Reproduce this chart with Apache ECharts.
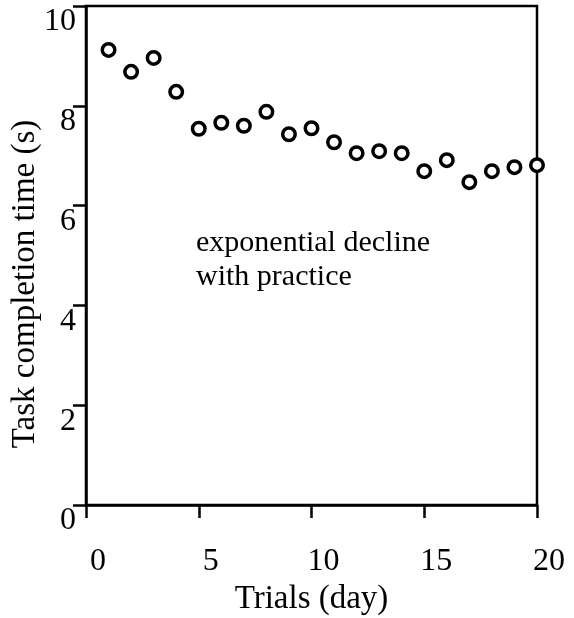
<!DOCTYPE html>
<html>
<head>
<meta charset="utf-8">
<script src="https://cdn.jsdelivr.net/npm/echarts@6/dist/echarts.min.js"></script>
<style>html,body{margin:0;padding:0;background:#fff;}#c{width:574px;height:618px;}</style>
</head>
<body>
<div id="c"></div>
<script>
const trials = [1,2,3,4,5,6,7,8,9,10,11,12,13,14,15,16,17,18,19,20];
const times = [9.12,8.68,8.96,8.28,7.54,7.66,7.60,7.88,7.43,7.55,7.27,7.05,7.09,7.05,6.69,6.91,6.47,6.69,6.77,6.81];
const annotationLines = ['exponential decline', 'with practice'];
const xTitle = 'Trials (day)';
const yTitle = 'Task completion time (s)';

const FONT = '"Liberation Serif", "Times New Roman", serif';
const chart = echarts.init(document.getElementById('c'), null, {renderer: 'canvas'});
const axisLine = {show: true, lineStyle: {color: '#000', width: 2.5}};
chart.setOption({
  backgroundColor: '#fff',
  animation: false,
  grid: {left: 86, right: 37, top: 6, bottom: 113, outerBoundsMode: 'none', containLabel: false,
         show: true, borderColor: '#000', borderWidth: 2.5, backgroundColor: 'transparent'},
  xAxis: {
    type: 'value', min: 0, max: 20, interval: 5,
    axisLine: axisLine,
    axisTick: {show: true, inside: false, length: 13, lineStyle: {color: '#000', width: 2.5}},
    splitLine: {show: false},
    axisLabel: {color: '#000', fontFamily: FONT, fontSize: 32, verticalAlign: 'middle', margin: 57, padding: [0, 0, 0, 24]},
    name: xTitle, nameLocation: 'middle', nameGap: 73,
    nameTextStyle: {color: '#000', fontFamily: FONT, fontSize: 33}
  },
  yAxis: {
    type: 'value', min: 0, max: 10, interval: 2,
    axisLine: axisLine,
    axisTick: {show: true, inside: false, length: 13, lineStyle: {color: '#000', width: 2.5}},
    splitLine: {show: false},
    axisLabel: {color: '#000', fontFamily: FONT, fontSize: 32, align: 'right', verticalAlign: 'top', margin: 10}
  },
  graphic: [{
    type: 'text', left: 196, top: 226, z: 10,
    style: {text: annotationLines.join('\n'), font: '30px ' + FONT, fill: '#000', lineHeight: 34}
  }, {
    type: 'text', x: 25, y: 284, rotation: Math.PI / 2, z: 10,
    style: {text: yTitle, font: '33px ' + FONT, fill: '#000', align: 'center', verticalAlign: 'middle'}
  }],
  series: [{
    type: 'scatter',
    data: trials.map((t, i) => [t, times[i]]),
    symbol: 'circle', symbolSize: 12.5, clip: false, z: 5,
    itemStyle: {color: '#fff', borderColor: '#000', borderWidth: 3.5, opacity: 1}
  }]
});
</script>
</body>
</html>
